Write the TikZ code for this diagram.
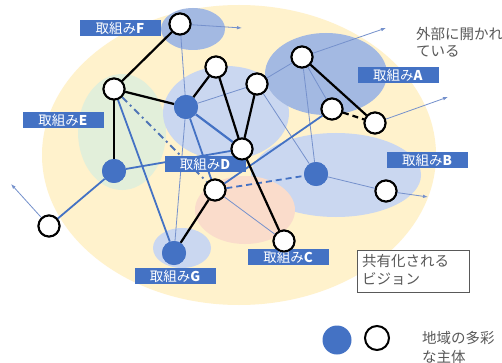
\documentclass[tikz,border=0pt]{standalone}
\usepackage{fontspec}
\newfontfamily\cjk{Noto Sans CJK JP}
\usetikzlibrary{arrows.meta}
\definecolor{mblue}{HTML}{4472C4}
\definecolor{yel}{HTML}{FFF2CC}
\definecolor{dblob}{HTML}{CAD7F0}
\definecolor{ablob}{HTML}{A3B9E2}
\definecolor{gblob}{HTML}{E2EFDA}
\definecolor{pblob}{HTML}{FADCCB}
\definecolor{thinc}{HTML}{7591CC}
\definecolor{txtg}{HTML}{595959}
\tikzset{
  wn/.style={circle,draw=black,fill=white,line width=2pt,minimum size=21pt,inner sep=0pt},
  bn/.style={circle,fill=mblue,minimum size=24pt,inner sep=0pt},
  lab/.style={fill=mblue,text=white,minimum width=81pt,minimum height=16pt,inner sep=0pt,font=\cjk\fontsize{13.5}{14}\selectfont},
  thk/.style={line width=2.2pt,black},
  med/.style={line width=1.8pt,mblue},
  thn/.style={line width=0.8pt,thinc},
  arr/.style={-{Latex[length=5pt,width=3.5pt]}}
}
\begin{document}
\begin{tikzpicture}[x=1pt,y=-1pt]
\useasboundingbox (0,0) rectangle (502,363);
\fill[white] (0,0) rectangle (502,363);
% background blobs
\fill[yel] (239,155) ellipse [x radius=197, y radius=150];
\fill[gblob] (122,132) ellipse [x radius=44, y radius=58];
\fill[dblob] (226,113) ellipse [x radius=63, y radius=47];
\fill[ablob] (326,74) ellipse [x radius=61, y radius=41];
\fill[ablob] (193,29) ellipse [x radius=32, y radius=21];
\fill[dblob] (336,175) ellipse [x radius=85, y radius=42];
\fill[pblob] (245,210) ellipse [x radius=50, y radius=34];
\fill[dblob] (182,248) ellipse [x radius=29, y radius=20];
% node coordinates
\coordinate (pF) at (180,24);
\coordinate (pEw) at (114,89);
\coordinate (pEb) at (114,171);
\coordinate (pDb) at (186,107);
\coordinate (pT1) at (216,67);
\coordinate (pT2) at (257,84);
\coordinate (pAt) at (302,57);
\coordinate (pAm) at (332,109);
\coordinate (pAr) at (375,123);
\coordinate (pDc) at (242,149);
\coordinate (pBb) at (316,174);
\coordinate (pBr) at (386,191);
\coordinate (pW) at (215,190);
\coordinate (pL) at (49,226);
\coordinate (pG) at (174,253);
\coordinate (pC) at (284,241);
\coordinate (aF) at (242,28);
\coordinate (aA) at (386,28);
\coordinate (aAr) at (448,97);
\coordinate (aBr) at (428,197);
\coordinate (aL) at (11,184);
% nodes
\node[wn] (nF) at (pF) {};
\node[wn] (nEw) at (pEw) {};
\node[bn] (nEb) at (pEb) {};
\node[bn] (nDb) at (pDb) {};
\node[wn] (nT1) at (pT1) {};
\node[wn] (nT2) at (pT2) {};
\node[wn] (nAt) at (pAt) {};
\node[wn] (nAm) at (pAm) {};
\node[wn] (nAr) at (pAr) {};
\node[wn] (nDc) at (pDc) {};
\node[bn] (nBb) at (pBb) {};
\node[wn] (nBr) at (pBr) {};
\node[wn] (nW) at (pW) {};
\node[wn] (nL) at (pL) {};
\node[bn] (nG) at (pG) {};
\node[wn] (nC) at (pC) {};
% thin lines
\draw[thn] (nF) -- (nDb);
\draw[thn] (nDb) -- (nG);
\draw[thn] (nDb) -- (nT2);
\draw[thn] (nT2) -- (nAt);
\draw[thn,arr] (nAt) -- (aA);
\draw[thn,arr] (nF) -- (aF);
\draw[thn] (nAt) -- (nAm);
\draw[thn] (nAt) -- (nBb);
\draw[thn] (nT2) -- (nBb);
\draw[thn,arr] (nAr) -- (aAr);
\draw[thn] (nBb) -- (nBr);
\draw[thn,arr] (nBr) -- (aBr);
\draw[thn,arr] (nL) -- (aL);
\draw[thn] (nW) -- (nC);
% medium blue lines
\draw[med,line width=2.2pt] (nDb) -- (nDc);
\draw[med] (nDb) -- (nW);
\draw[med] (nEw) -- (nG);
\draw[med] (nEb) -- (nDc);
\draw[med] (nEb) -- (nL);
\draw[med] (nW) -- (nAm);
\draw[med,dash pattern=on 6pt off 4pt] (nW) -- (nBb);
\draw[line width=1.9pt,color=mblue!80!gray,dash pattern=on 7pt off 4pt on 2pt off 4pt] (nEw) -- (nW);
% black thick lines
\draw[thk] (nF) -- (nEw);
\draw[thk] (nEw) -- (nDb);
\draw[thk] (nEw) -- (nEb);
\draw[thk] (nDb) -- (nT1);
\draw[thk] (nT1) -- (nDc);
\draw[thk] (nT2) -- (nDc);
\draw[thk] (nAt) -- (nAr);
\draw[thk] (nDc) -- (nC);
\draw[thk] (nW) -- (nG);
\draw[thk,dash pattern=on 6pt off 4pt] (nAm) -- (nAr);
% labels
\node[lab] (lF) at (120,28) {取組み\textbf{F}};
\node[lab] (lE) at (63,120) {取組み\textbf{E}};
\node[lab] (lD) at (205,164) {取組み\textbf{D}};
\node[lab] (lA) at (398,75) {取組み\textbf{A}};
\node[lab] (lB) at (427,160) {取組み\textbf{B}};
\node[lab] (lC) at (288,257) {取組み\textbf{C}};
\node[lab] (lG) at (175,276) {取組み\textbf{G}};
% redraw nodes on top
\foreach \p in {pF,pEw,pT1,pT2,pAt,pAm,pAr,pDc,pBr,pW,pL,pC} \node[wn] at (\p) {};
\foreach \p in {pEb,pDb,pBb,pG} \node[bn] at (\p) {};
% texts
\node[anchor=north west,align=left,text=txtg,inner sep=0pt,font=\cjk\fontsize{14.5}{17}\selectfont] (tOpen) at (416,27) {外部に開かれ\\ている};
\node[draw=txtg,line width=0.8pt,fill=white,minimum width=112pt,minimum height=42pt,inner sep=0pt] (vbox) at (413,271) {};
\node[anchor=west,align=left,text=txtg,inner sep=0pt,font=\cjk\fontsize{14.5}{18}\selectfont] (tVis) at (362,270) {共有化される\\ビジョン};
% legend
\node[circle,fill=mblue,minimum size=29pt,inner sep=0pt] (legB) at (337,340) {};
\node[wn,minimum size=24pt] (legW) at (377,338) {};
\node[anchor=west,align=left,text=txtg,inner sep=0pt,font=\cjk\fontsize{14.5}{19}\selectfont] (tLeg) at (422,347) {地域の多彩\\な主体};
\end{tikzpicture}
\end{document}
